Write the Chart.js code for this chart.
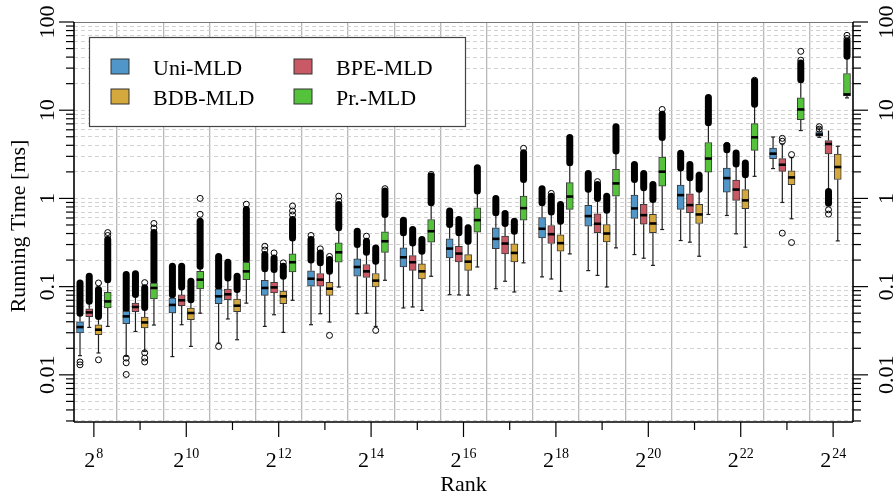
<!DOCTYPE html>
<html>
<head>
<meta charset="utf-8">
<script src="https://cdn.jsdelivr.net/npm/chart.js@4.4.1/dist/chart.umd.min.js"></script>
<style>
  html, body { margin: 0; padding: 0; background: #fff; }
</style>
</head>
<body>
<canvas id="chart" width="896" height="496"></canvas>
<script>
// rank = 2^exp, one group of four boxes per rank
const rankExps = [8, 9, 10, 11, 12, 13, 14, 15, 16, 17, 18, 19, 20, 21, 22, 23, 24];
const seriesNames = ["Uni-MLD", "BPE-MLD", "BDB-MLD", "Pr.-MLD"];
const seriesColors = ["#5096c8", "#c95a65", "#d4a83c", "#55c23c"];
const yMajorTicks = [0.01, 0.1, 1, 10, 100];

// box rows: [lower whisker, q1, median, q3, upper whisker]  (ms)
const uniBox = [
  [0.0165, 0.0298, 0.0348, 0.040, 0.050], [0.0162, 0.038, 0.046, 0.0524, 0.055],
  [0.0161, 0.0502, 0.062, 0.0744, 0.081], [0.0229, 0.064, 0.0776, 0.094, 0.10],
  [0.0354, 0.0796, 0.0966, 0.118, 0.159], [0.037, 0.101, 0.123, 0.151, 0.20],
  [0.0493, 0.131, 0.167, 0.206, 0.30], [0.0573, 0.167, 0.215, 0.275, 0.407],
  [0.081, 0.212, 0.27, 0.348, 0.506], [0.0948, 0.27, 0.348, 0.464, 0.687],
  [0.129, 0.357, 0.453, 0.608, 0.894], [0.152, 0.485, 0.63, 0.833, 1.27],
  [0.231, 0.593, 0.77, 1.09, 1.64], [0.333, 0.75, 1.09, 1.42, 2.21],
  [0.641, 1.18, 1.7, 2.21, 3.57], [2.18, 2.83, 3.22, 3.73, 4.97],
  [4.93, 5.07, 5.3, 5.73, 6.3]
];
const bpeBox = [
  [0.0345, 0.0456, 0.051, 0.0562, 0.0683], [0.031, 0.052, 0.0588, 0.065, 0.0814],
  [0.037, 0.0608, 0.070, 0.0805, 0.099], [0.043, 0.071, 0.0818, 0.094, 0.125],
  [0.048, 0.0848, 0.098, 0.112, 0.156], [0.0493, 0.101, 0.12, 0.141, 0.186],
  [0.050, 0.127, 0.149, 0.178, 0.245], [0.0588, 0.153, 0.189, 0.225, 0.313],
  [0.0805, 0.191, 0.237, 0.287, 0.407], [0.115, 0.235, 0.308, 0.373, 0.52],
  [0.122, 0.308, 0.393, 0.493, 0.70], [0.134, 0.408, 0.516, 0.67, 1.0],
  [0.21, 0.51, 0.646, 0.855, 1.32], [0.319, 0.688, 0.84, 1.13, 1.72],
  [0.397, 0.95, 1.26, 1.61, 2.46], [0.9, 2.03, 2.41, 2.83, 4.14],
  [1.22, 3.19, 4.14, 4.53, 5.88]
];
const bdbBox = [
  [0.0177, 0.0285, 0.0325, 0.037, 0.046], [0.0184, 0.034, 0.0393, 0.0452, 0.058],
  [0.021, 0.0422, 0.0502, 0.0573, 0.071], [0.025, 0.052, 0.0608, 0.0724, 0.0928],
  [0.0303, 0.064, 0.0776, 0.0893, 0.131], [0.0397, 0.0796, 0.0948, 0.112, 0.149],
  [0.0354, 0.099, 0.117, 0.141, 0.194], [0.0538, 0.122, 0.149, 0.181, 0.252],
  [0.080, 0.153, 0.192, 0.231, 0.327], [0.087, 0.191, 0.241, 0.306, 0.425],
  [0.0887, 0.252, 0.311, 0.387, 0.55], [0.099, 0.322, 0.40, 0.506, 0.736],
  [0.174, 0.408, 0.52, 0.658, 0.97], [0.221, 0.52, 0.658, 0.855, 1.27],
  [0.28, 0.763, 0.95, 1.26, 1.86], [0.588, 1.43, 1.73, 2.06, 2.9],
  [0.33, 1.64, 2.27, 3.19, 3.9]
];
const prBox = [
  [0.0354, 0.0573, 0.068, 0.0861, 0.12], [0.0367, 0.0724, 0.0966, 0.110, 0.115],
  [0.050, 0.094, 0.12, 0.149, 0.17], [0.065, 0.12, 0.149, 0.189, 0.20],
  [0.070, 0.147, 0.189, 0.235, 0.357], [0.099, 0.189, 0.245, 0.313, 0.464],
  [0.118, 0.245, 0.327, 0.419, 0.658], [0.131, 0.319, 0.425, 0.577, 0.894],
  [0.167, 0.414, 0.567, 0.784, 1.21], [0.186, 0.567, 0.776, 1.06, 1.64],
  [0.235, 0.75, 1.05, 1.51, 2.54], [0.275, 1.06, 1.48, 2.13, 3.45],
  [0.444, 1.38, 2.01, 2.95, 4.9], [0.658, 1.99, 2.83, 4.3, 7.2],
  [1.78, 3.51, 4.93, 7.06, 11.7], [5.88, 7.83, 10.2, 13.8, 22.2],
  [13.8, 14.5, 15.1, 26.1, 41]
];

// span covered by densely packed outliers [from, to], null if none
const uniDense = [[0.050, 0.11], [0.055, 0.137], [0.081, 0.17], [0.10, 0.22], [0.159, 0.231], [0.20, 0.342], [0.30, 0.425], [0.407, 0.567], [0.506, 0.718], [0.687, 1.0], [0.894, 1.29], [1.27, 1.92], [1.64, 2.43], [2.21, 3.25], [3.57, 3.95], null, null];
const bpeDense = [[0.0683, 0.131], [0.0814, 0.14], [0.099, 0.17], [0.125, 0.189], [0.156, 0.211], [0.186, 0.241], [0.245, 0.327], [0.313, 0.444], [0.407, 0.577], [0.52, 0.675], [0.70, 1.06], [1.0, 1.44], [1.32, 1.92], [1.72, 2.43], [2.46, 3.27], null, [0.88, 1.2]];
const bdbDense = [[0.046, 0.093], [0.058, 0.097], [0.071, 0.115], [0.0928, 0.131], [0.131, 0.17], [0.149, 0.203], [0.194, 0.275], [0.252, 0.342], [0.327, 0.464], [0.425, 0.55], [0.55, 0.855], [0.736, 1.06], [0.97, 1.44], [1.27, 1.83], [1.86, 2.52], null, null];
const prDense = [[0.12, 0.342], [0.115, 0.41], [0.17, 0.55], [0.20, 0.75], [0.357, 0.577], [0.464, 0.855], [0.658, 1.21], [0.894, 1.79], [1.21, 2.23], [1.64, 3.3], [2.54, 4.9], [3.45, 6.5], [4.9, 9.0], [7.2, 13.9], [11.7, 21.3], [22.2, 34.4], [41, 61]];

// single outliers
const uniOut = [[0.014, 0.013], [0.0155, 0.0137, 0.0101], [], [0.021], [0.26, 0.287], [0.38], [], [], [], [], [], [], [], [], [4.0], [], [6.1, 6.5]];
const bpeOut = [[], [], [], [], [0.241], [0.268], [0.373], [], [], [], [1.14], [1.55], [], [], [], [4.45, 4.8, 0.404], [0.743, 0.664]];
const bdbOut = [[0.110, 0.0148], [0.111, 0.0178, 0.0155, 0.014], [], [], [0.186], [0.22, 0.028], [0.0319], [], [], [], [], [], [], [], [], [3.14, 0.316], []];
const prOut = [[0.38, 0.41], [0.46, 0.52], [0.66, 1.0], [0.86], [0.65, 0.72, 0.82], [0.93, 1.06], [1.29], [1.87], [], [3.7], [], [], [10.2], [], [21.9], [36.9, 46.5], [65, 70.6]];

const boxSets = [uniBox, bpeBox, bdbBox, prBox];
const denseSets = [uniDense, bpeDense, bdbDense, prDense];
const outSets = [uniOut, bpeOut, bdbOut, prOut];

const SLOTS = 5; // 4 boxes + gap
const pos = (g, s) => g * SLOTS + s;
const SERIF = '"Liberation Serif", "DejaVu Serif", serif';

function line(ctx, x1, y1, x2, y2) {
  ctx.beginPath();
  ctx.moveTo(x1, y1);
  ctx.lineTo(x2, y2);
  ctx.stroke();
}

const datasets = [];
boxSets.forEach((rows, s) => {
  datasets.push({
    type: "bar",
    label: seriesNames[s],
    data: rows.map((r, g) => ({ x: pos(g, s), y: [r[1], r[3]] })),
    backgroundColor: seriesColors[s],
    borderColor: "#3a3a3a",
    borderWidth: 1,
    borderSkipped: false,
    barThickness: 7,
    grouped: false,
    order: 2
  });
});
outSets.forEach((rows, s) => {
  datasets.push({
    type: "scatter",
    label: seriesNames[s] + " outliers",
    data: rows.flatMap((vals, g) => vals.map(v => ({ x: pos(g, s), y: v }))),
    pointStyle: "circle",
    pointRadius: 3,
    pointBorderWidth: 1,
    pointBorderColor: "#000",
    pointBackgroundColor: "rgba(255,255,255,0)",
    showLine: false,
    order: 1
  });
});

const boxParts = {
  id: "boxParts",
  beforeDatasetsDraw(chart) {
    const { ctx } = chart;
    const x = chart.scales.x, y = chart.scales.y;
    ctx.save();
    boxSets.forEach((rows, s) => {
      rows.forEach((r, g) => {
        const px = x.getPixelForValue(pos(g, s));
        const dense = denseSets[s][g];
        ctx.strokeStyle = "#1e1e1e";
        ctx.lineWidth = 1.2;
        ctx.lineCap = "butt";
        line(ctx, px, y.getPixelForValue(r[0]), px, y.getPixelForValue(r[1]));
        line(ctx, px, y.getPixelForValue(r[3]), px, y.getPixelForValue(r[4]));
        line(ctx, px - 2, y.getPixelForValue(r[0]), px + 2, y.getPixelForValue(r[0]));
        if (!dense) line(ctx, px - 2, y.getPixelForValue(r[4]), px + 2, y.getPixelForValue(r[4]));
        if (dense) {
          ctx.strokeStyle = "#000";
          ctx.lineWidth = 7;
          ctx.lineCap = "round";
          line(ctx, px, y.getPixelForValue(dense[0]), px, y.getPixelForValue(dense[1]));
        }
      });
    });
    ctx.restore();
  },
  afterDatasetsDraw(chart) {
    const { ctx, chartArea: a } = chart;
    const x = chart.scales.x, y = chart.scales.y;
    ctx.save();

    // medians
    ctx.strokeStyle = "#000";
    ctx.lineWidth = 2.6;
    boxSets.forEach((rows, s) => {
      rows.forEach((r, g) => {
        const px = x.getPixelForValue(pos(g, s));
        const py = y.getPixelForValue(r[2]);
        line(ctx, px - 3.5, py, px + 3.5, py);
      });
    });

    // frame
    ctx.lineWidth = 1;
    ctx.strokeStyle = "#777";
    line(ctx, a.left, a.top + 0.5, a.right, a.top + 0.5);
    ctx.strokeStyle = "#000";
    ctx.lineWidth = 1.6;
    line(ctx, a.left, a.top, a.left, a.bottom);
    line(ctx, a.right, a.top, a.right, a.bottom);
    line(ctx, a.left, a.bottom, a.right, a.bottom);

    // y ticks, both sides
    ctx.lineWidth = 1.2;
    y.ticks.forEach(t => {
      const py = y.getPixelForValue(t.value);
      const major = yMajorTicks.includes(t.value);
      const len = major ? 15 : 8;
      line(ctx, a.left - len, py, a.left, py);
      line(ctx, a.right, py, a.right + len, py);
    });

    // y labels, rotated
    ctx.fillStyle = "#000";
    ctx.font = "22px " + SERIF;
    ctx.textAlign = "center";
    ctx.textBaseline = "alphabetic";
    yMajorTicks.forEach(v => {
      const py = y.getPixelForValue(v);
      [a.left - 20, a.right + 40].forEach(bx => {
        ctx.save();
        ctx.translate(bx, py);
        ctx.rotate(-Math.PI / 2);
        ctx.fillText(String(v), 0, 0);
        ctx.restore();
      });
    });

    // x ticks and 2^k labels
    rankExps.forEach((e, g) => {
      const px = x.getPixelForValue(pos(g, 1.5));
      const labelled = g % 2 === 0;
      line(ctx, px, a.bottom, px, a.bottom + (labelled ? 15 : 8));
      if (!labelled) return;
      ctx.font = "22px " + SERIF;
      const wBase = ctx.measureText("2").width;
      ctx.font = "14px " + SERIF;
      const wExp = ctx.measureText(String(e)).width;
      const x0 = px - (wBase + wExp + 1) / 2;
      ctx.textAlign = "left";
      ctx.font = "22px " + SERIF;
      ctx.fillText("2", x0, a.bottom + 45);
      ctx.font = "14px " + SERIF;
      ctx.fillText(String(e), x0 + wBase + 1, a.bottom + 36);
    });

    // axis titles
    ctx.textAlign = "center";
    ctx.font = "22px " + SERIF;
    ctx.fillText("Rank", (a.left + a.right) / 2, a.bottom + 69);
    ctx.save();
    ctx.translate(25, (a.top + a.bottom) / 2 + 4);
    ctx.rotate(-Math.PI / 2);
    ctx.fillText("Running Time [ms]", 0, 0);
    ctx.restore();

    // legend box
    const lx = a.left + 15.5, ly = a.top + 15.5, lw = 376, lh = 89;
    ctx.fillStyle = "#fff";
    ctx.fillRect(lx, ly, lw, lh);
    ctx.strokeStyle = "#444";
    ctx.lineWidth = 1.2;
    ctx.strokeRect(lx, ly, lw, lh);
    ctx.font = "22px " + SERIF;
    ctx.textAlign = "left";
    seriesNames.forEach((name, i) => {
      const col = i % 2, row = Math.floor(i / 2);
      const sx = lx + 21.5 + col * 183, sy = ly + 21.5 + row * 30;
      ctx.fillStyle = seriesColors[i];
      ctx.fillRect(sx, sy, 18, 15);
      ctx.strokeStyle = "#333";
      ctx.lineWidth = 1;
      ctx.strokeRect(sx, sy, 18, 15);
      ctx.fillStyle = "#000";
      ctx.fillText(name, sx + 42, sy + 16);
    });
    ctx.restore();
  }
};

new Chart(document.getElementById("chart"), {
  type: "bar",
  data: { datasets: datasets },
  options: {
    responsive: false,
    animation: false,
    devicePixelRatio: 1,
    layout: { padding: { left: 74, right: 43, top: 22, bottom: 74 } },
    plugins: { legend: { display: false }, tooltip: { enabled: false } },
    scales: {
      x: {
        type: "linear",
        min: -0.65,
        max: rankExps.length * SLOTS - 1.35,
        offset: false,
        grid: { offset: false, color: "#b8b8b8", lineWidth: 1.3, drawTicks: false },
        border: { display: false },
        ticks: { display: false },
        afterBuildTicks: sc => {
          sc.ticks = rankExps.slice(1).map((e, g) => ({ value: pos(g, 4) }));
        },
        afterFit: sc => { sc.height = 0; }
      },
      y: {
        type: "logarithmic",
        min: 0.00292,
        max: 100,
        grid: { color: "#d2d2d2", lineWidth: 1, drawTicks: false },
        border: { display: false, dash: [4, 3] },
        ticks: { display: false },
        afterBuildTicks: sc => {
          const vals = [];
          for (let e = -3; e <= 2; e++) {
            for (let m = 1; m <= 9; m++) {
              const v = Number((m * Math.pow(10, e)).toPrecision(3));
              if (v >= sc.min && v <= sc.max) vals.push(v);
            }
          }
          sc.ticks = vals.map(v => ({ value: v }));
        },
        afterFit: sc => { sc.width = 0; }
      }
    }
  },
  plugins: [boxParts]
});
</script>
</body>
</html>
